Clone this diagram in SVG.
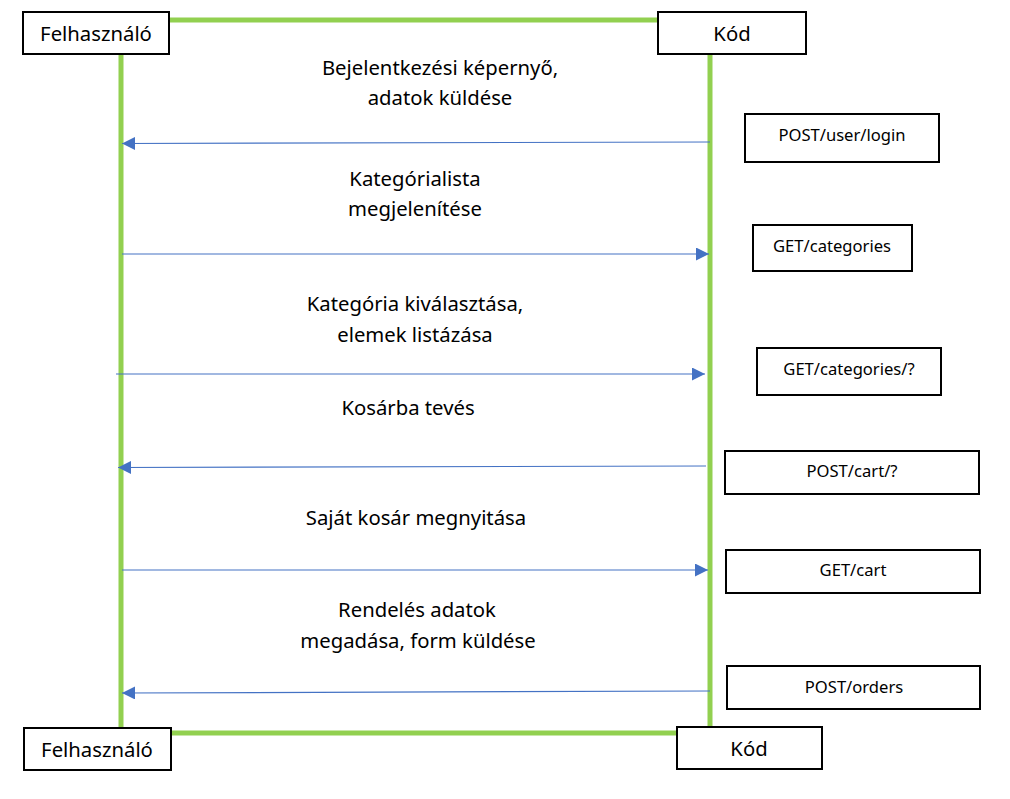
<svg xmlns="http://www.w3.org/2000/svg" width="1010" height="799" viewBox="0 0 1010 799">
<defs>
<style>
.life{stroke:#92D050;stroke-width:5;fill:none}
.msg{stroke:#4472C4;stroke-width:1.2;fill:none}
.box{fill:#fff;stroke:#000;stroke-width:2}
.t{font-family:"Noto Sans","Open Sans",sans-serif;fill:#000;text-anchor:middle}
.big{font-size:20.3px}
.sm{font-size:16.6px}
</style>
<marker id="ah" viewBox="0 0 10 10" refX="10" refY="5" markerWidth="13" markerHeight="13" markerUnits="userSpaceOnUse" orient="auto">
<path d="M0,0 L10,5 L0,10 z" fill="#4472C4"/>
</marker>
</defs>
<rect width="1010" height="799" fill="#fff"/>
<g id="lifelines">
<path class="life" d="M169,20 H658"/>
<path class="life" d="M121,54 V733 H710 V54"/>
</g>
<g id="connectors">
<line class="msg" x1="710" y1="142" x2="122" y2="143.5" marker-end="url(#ah)"/>
<line class="msg" x1="122" y1="254" x2="709" y2="254" marker-end="url(#ah)"/>
<line class="msg" x1="116" y1="374" x2="705" y2="374" marker-end="url(#ah)"/>
<line class="msg" x1="706" y1="466" x2="118" y2="467.5" marker-end="url(#ah)"/>
<line class="msg" x1="122" y1="570" x2="708" y2="570" marker-end="url(#ah)"/>
<line class="msg" x1="710" y1="691" x2="122" y2="693" marker-end="url(#ah)"/>
</g>
<g id="labels">
<text class="t big" x="440" y="75">Bejelentkezési képernyő,</text>
<text class="t big" x="440" y="105">adatok küldése</text>
<text class="t big" x="415" y="186">Kategórialista</text>
<text class="t big" x="415" y="216">megjelenítése</text>
<text class="t big" x="415" y="311">Kategória kiválasztása,</text>
<text class="t big" x="415" y="342">elemek listázása</text>
<text class="t big" x="408" y="415">Kosárba tevés</text>
<text class="t big" x="416" y="525">Saját kosár megnyitása</text>
<text class="t big" x="417" y="617">Rendelés adatok</text>
<text class="t big" x="418" y="648">megadása, form küldése</text>
</g>
<g id="user-top"><rect class="box" x="23" y="12" width="146" height="42"/><text class="t big" x="96" y="41">Felhasználó</text></g>
<g id="code-top"><rect class="box" x="658" y="12" width="148" height="42"/><text class="t big" x="732" y="41">Kód</text></g>
<g id="post-login"><rect class="box" x="745" y="114" width="194" height="48"/><text class="t sm" x="842" y="141">POST/user/login</text></g>
<g id="get-categories"><rect class="box" x="753" y="225" width="159" height="46"/><text class="t sm" x="832" y="252">GET/categories</text></g>
<g id="get-category"><rect class="box" x="757" y="348" width="184" height="47"/><text class="t sm" x="849" y="375">GET/categories/?</text></g>
<g id="post-cart"><rect class="box" x="725" y="451" width="254" height="43"/><text class="t sm" x="852" y="477">POST/cart/?</text></g>
<g id="get-cart"><rect class="box" x="726" y="550" width="254" height="43"/><text class="t sm" x="853" y="576">GET/cart</text></g>
<g id="post-orders"><rect class="box" x="727" y="666" width="253" height="43"/><text class="t sm" x="854" y="693">POST/orders</text></g>
<g id="user-bottom"><rect class="box" x="24" y="728" width="147" height="42"/><text class="t big" x="97" y="757">Felhasználó</text></g>
<g id="code-bottom"><rect class="box" x="677" y="727" width="145" height="42"/><text class="t big" x="749" y="756">Kód</text></g>
</svg>
